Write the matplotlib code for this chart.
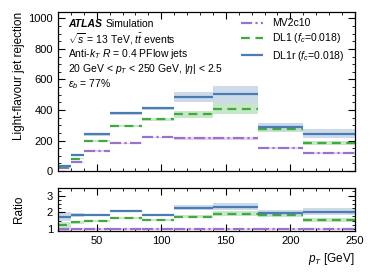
import numpy as np
import matplotlib
matplotlib.use("Agg")
import matplotlib.pyplot as plt
from matplotlib.ticker import MultipleLocator

plt.rcParams['font.family'] = ['Liberation Sans', 'DejaVu Sans']
plt.rcParams['mathtext.fontset'] = 'custom'
plt.rcParams['mathtext.rm'] = 'Liberation Sans'
plt.rcParams['mathtext.it'] = 'Liberation Sans:italic'
plt.rcParams['mathtext.bf'] = 'Liberation Sans:bold'

# pT bin edges [GeV]
edges = [20, 30, 40, 60, 85, 110, 140, 175, 210, 250]

# light-flavour jet rejection per bin
mv2c10 = [19, 57, 131, 181, 220, 214, 214, 149, 120]
dl1 = [24, 80, 196, 297, 339, 372, 408, 275, 185]
dl1r = [33, 104, 240, 378, 410, 487, 502, 290, 245]

# statistical uncertainties
mv2c10_err = [2, 3, 4, 5, 6, 9, 10, 7, 6]
dl1_err = [3, 4, 6, 8, 10, 22, 35, 18, 15]
dl1r_err = [5, 6, 8, 10, 12, 33, 55, 28, 30]

labels = ["MV2c10", r"DL1 ($f_c$=0.018)", r"DL1r ($f_c$=0.018)"]
colors = ["#9f6fcc", "#3cac3c", "#4a7db5"]
band_colors = ["#dccdee", "#bfe3bf", "#c5d5e5"]
styles = [(0, (5, 1.5, 1, 1.5)), (0, (4, 2.5)), "-"]

edges = np.array(edges)
lo, hi = edges[:-1], edges[1:]
widths = hi - lo

fig = plt.figure(figsize=(3.74, 2.8), dpi=100)
ax = fig.add_axes([0.155, 0.389, 0.794, 0.567])
axr = fig.add_axes([0.155, 0.175, 0.794, 0.1525], sharex=ax)

series = [(np.array(mv2c10, float), np.array(mv2c10_err, float)),
          (np.array(dl1, float), np.array(dl1_err, float)),
          (np.array(dl1r, float), np.array(dl1r_err, float))]
ref, ref_err = series[0]

for (v, e), lab, c, bc, ls in zip(series, labels, colors, band_colors, styles):
    ax.bar(lo, 2 * e, bottom=v - e, width=widths, align='edge',
           color=bc, alpha=0.85, linewidth=0)
    ax.hlines(v, lo, hi, colors=c, linestyles=ls, linewidth=1.6, label=lab)
    r = v / ref
    re = r * np.sqrt((e / v) ** 2 + (ref_err / ref) ** 2) * 0.8
    axr.bar(lo, 2 * re, bottom=r - re, width=widths, align='edge',
            color=bc, alpha=0.85, linewidth=0)
    axr.hlines(r, lo, hi, colors=c, linestyles=ls, linewidth=1.6)

ax.set_xlim(20, 250)
ax.set_ylim(0, 1040)
axr.set_ylim(0.88, 3.44)

for a in (ax, axr):
    a.tick_params(which='both', direction='in', top=True, right=True, labelsize=8)
    a.tick_params(which='major', length=5, width=0.8)
    a.tick_params(which='minor', length=2.5, width=0.6)
    a.xaxis.set_major_locator(MultipleLocator(50))
    a.xaxis.set_minor_locator(MultipleLocator(10))
    for s in a.spines.values():
        s.set_linewidth(0.9)

ax.yaxis.set_major_locator(MultipleLocator(200))
ax.yaxis.set_minor_locator(MultipleLocator(50))
axr.yaxis.set_major_locator(MultipleLocator(1))
axr.yaxis.set_minor_locator(MultipleLocator(0.25))
ax.tick_params(labelbottom=False)

ax.set_ylabel("Light-flavour jet rejection", loc='top', fontsize=8.5)
axr.set_ylabel("Ratio", fontsize=8.5)
axr.set_xlabel(r"$p_T$ [GeV]", loc='right', fontsize=8.5)
ax.yaxis.set_label_coords(-0.11, 1.0)
axr.yaxis.set_label_coords(-0.11, 0.5)

tx = 0.035
ax.text(tx, 0.924, "ATLAS", transform=ax.transAxes, fontsize=7.5,
        fontweight='bold', fontstyle='italic', va='center')
ax.text(tx + 0.125, 0.924, "Simulation", transform=ax.transAxes, fontsize=7.5,
        va='center')
info = [r"$\sqrt{s}$ = 13 TeV, $t\bar{t}$ events",
        r"Anti-$k_T$ $R$ = 0.4 PFlow jets",
        r"20 GeV < $p_T$ < 250 GeV, $|\eta|$ < 2.5",
        r"$\varepsilon_b$ = 77%"]
for i, t in enumerate(info):
    ax.text(tx, 0.830 - i * 0.094, t, transform=ax.transAxes, fontsize=7.5,
            va='center')

ax.legend(loc='upper left', fontsize=7.5, frameon=False, handlelength=2.1,
          handletextpad=0.85, borderaxespad=0, borderpad=0, labelspacing=0.3,
          bbox_to_anchor=(0.618, 0.962))

fig.savefig("out.png", dpi=100)
